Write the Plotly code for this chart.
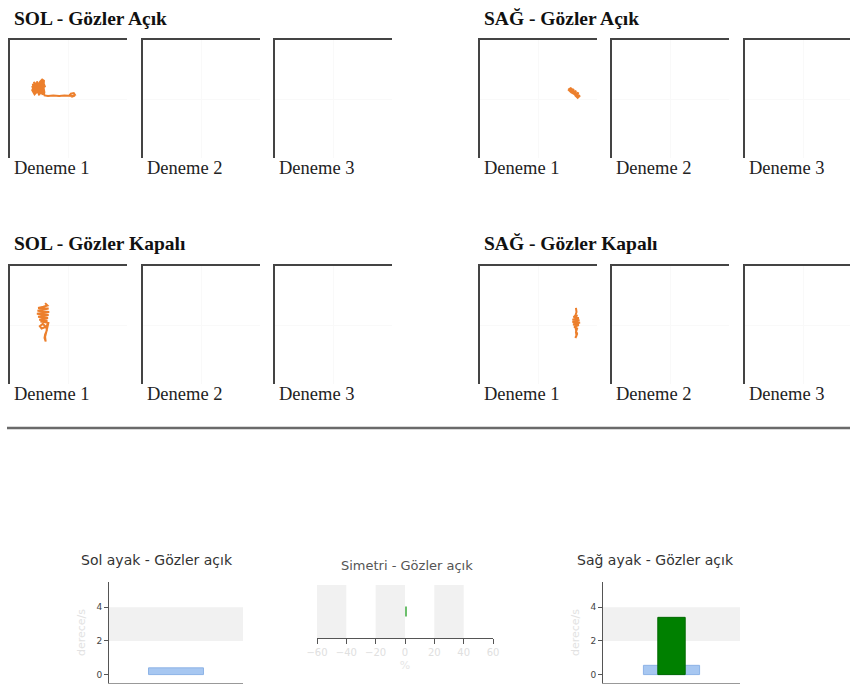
import plotly.graph_objects as go

W, H = 850, 688

# ---- Sway trajectories (Deneme 1 only; Deneme 2 and 3 are empty) ----
sol_acik_x = [-6.1, -5.9, -6.2, -5.6, -5.9, -5.3, -5.7, -5.0, -5.4, -4.7, -5.1, -4.4, -4.8, -4.1,
              -4.5, -4.0, -4.6, -4.2, -5.0, -4.6, -5.5, -5.1, -6.0, -5.6, -6.2, -5.8, -5.3, -4.9,
              -4.5, -4.2, -4.3, -4.1, -3.5, -2.6, -1.6, -0.7, 0.1, 0.7, 1.1, 0.9, 0.4, 0.2, 0.6, 1.1]
sol_acik_y = [2.6, 1.2, 2.2, 0.9, 2.9, 1.0, 2.7, 0.6, 3.0, 0.8, 2.8, 0.7, 3.1, 1.0,
              3.3, 2.0, 2.6, 1.4, 1.9, 1.1, 2.4, 1.6, 2.0, 2.8, 1.5, 0.8, 1.3, 2.9,
              3.3, 3.1, 1.5, 0.6, 0.5, 0.6, 0.5, 0.6, 0.5, 0.5, 0.7, 1.0, 0.9, 0.6, 0.4, 0.6]

sag_acik_x = [5.1, 5.6, 5.4, 6.0, 5.8, 6.4, 6.2, 6.8, 6.6, 7.1, 6.7, 6.3, 6.5, 5.9, 6.1, 5.5,
              5.7, 5.2, 5.6, 6.2, 6.8]
sag_acik_y = [1.6, 1.9, 1.2, 1.7, 1.0, 1.4, 0.7, 1.1, 0.4, 0.6, 0.2, 0.6, 1.0, 0.9, 1.4, 1.3,
              1.8, 1.5, 1.1, 0.8, 0.5]

sol_kapali_x = [-4.0, -3.6, -4.3, -5.2, -3.4, -5.3, -3.3, -5.4, -3.4, -5.2, -3.5, -5.0, -3.6,
                -4.8, -3.7, -4.2, -3.5, -3.8, -4.6, -4.9, -4.4, -3.8, -3.7, -4.0, -4.1, -3.9,
                -4.0, -3.8, -3.6, -3.4]
sol_kapali_y = [3.7, 3.3, 3.1, 2.9, 2.8, 2.4, 2.2, 1.9, 1.7, 1.4, 1.2, 0.9, 0.7,
                0.6, 0.4, 0.9, 0.3, -0.3, -0.6, -0.2, 0.2, -0.4, -0.9, -1.6, -2.2, -2.8,
                -2.0, -1.2, -0.3, 0.5]

sag_kapali_x = [6.4, 6.5, 6.3, 6.0, 6.9, 5.8, 7.0, 5.8, 7.1, 5.9, 6.9, 6.1, 6.6, 6.4, 6.5, 6.3,
                6.6, 6.4, 6.2, 6.6]
sag_kapali_y = [2.9, 2.2, 1.6, 1.3, 1.2, 0.9, 0.8, 0.5, 0.4, 0.1, 0.0, -0.3, -0.6, -1.2, -1.8,
                -2.2, -1.5, -0.8, 0.6, 1.8]

section_titles = ["SOL - Gözler Açık", "SAĞ - Gözler Açık", "SOL - Gözler Kapalı", "SAĞ - Gözler Kapalı"]
deneme_labels = ["Deneme 1", "Deneme 2", "Deneme 3"]

# ---- Summary charts ----
ayak_titles = ["Sol ayak - Gözler açık", "Sağ ayak - Gözler açık"]
ayak_ref = [0.4, 0.55]          # light blue reference bar
ayak_olcum = [None, 3.4]        # green measured bar
normal_band = [2, 4]
y_ticks = [0, 2, 4]
y_title = "derece/s"

simetri_title = "Simetri - Gözler açık"
simetri_value = 1.0
simetri_ticks = [-60, -40, -20, 0, 20, 40, 60]
simetri_bands = [(-60, -40), (-20, 0), (20, 40)]
simetri_unit = "%"

ORANGE = "#ec7f2c"
SERIF = "Liberation Serif"
SANS = "DejaVu Sans"


def fx(p):
    return p / W


def fy(p):
    return 1 - p / H


fig = go.Figure()
layout = {}
annotations = []
shapes = []


def ax_names(i):
    s = "" if i == 1 else str(i)
    return "xaxis" + s, "yaxis" + s, "x" + s, "y" + s


# trajectory panels
panel_lefts = [[10, 143, 275], [480, 612, 745]]
row_tops = [40, 266]
PW, PH = 117, 118
traj = {(0, 0): (sol_acik_x, sol_acik_y), (0, 1): (sag_acik_x, sag_acik_y),
        (1, 0): (sol_kapali_x, sol_kapali_y), (1, 1): (sag_kapali_x, sag_kapali_y)}

idx = 0
for r, top in enumerate(row_tops):
    for g, lefts in enumerate(panel_lefts):
        annotations.append(dict(x=fx(lefts[0] + 2), y=fy(top - 22), xref="paper", yref="paper",
                                text="<b>" + section_titles[r * 2 + g] + "</b>", showarrow=False,
                                xanchor="left", yanchor="middle",
                                font=dict(family=SERIF, size=19.5, color="#111")))
        for k, left in enumerate(lefts):
            idx += 1
            xa, ya, xr, yr = ax_names(idx)
            right = min(left + PW, W)
            xmax = -10 + 20 * (right - left) / PW
            layout[xa] = dict(domain=[fx(left), fx(right)], range=[-10, xmax], anchor=yr,
                              side="top", showline=True, linecolor="#444", linewidth=2,
                              showticklabels=False, ticks="", showgrid=False, automargin=False,
                              zeroline=True, zerolinecolor="#f9f9f9", zerolinewidth=1)
            layout[ya] = dict(domain=[fy(top + PH), fy(top)], range=[-10, 10], anchor=xr,
                              showline=True, linecolor="#444", linewidth=2, automargin=False,
                              showticklabels=False, ticks="", showgrid=False,
                              zeroline=True, zerolinecolor="#f9f9f9", zerolinewidth=1)
            if k == 0:
                tx, ty = traj[(r, g)]
            else:
                tx, ty = [None], [None]
            fig.add_trace(go.Scatter(x=tx, y=ty, mode="lines", xaxis=xr, yaxis=yr,
                                     line=dict(color=ORANGE, width=2),
                                     hoverinfo="skip", showlegend=False))
            annotations.append(dict(x=fx(left + 2), y=fy(top + PH + 10), xref="paper", yref="paper",
                                    text=deneme_labels[k], showarrow=False,
                                    xanchor="left", yanchor="middle",
                                    font=dict(family=SERIF, size=18.5, color="#222")))

# separator
shapes.append(dict(type="line", xref="paper", yref="paper", x0=fx(7), x1=1, y0=fy(428), y1=fy(428),
                   line=dict(color="#6a6a6a", width=2.5)))

# foot summary charts
ayak_boxes = [(109, 243), (603, 740)]
ayak_title_x = [157, 655]
for j in range(2):
    idx += 1
    xa, ya, xr, yr = ax_names(idx)
    x0p, x1p = ayak_boxes[j]
    layout[xa] = dict(domain=[fx(x0p), fx(x1p)], range=[-0.5, 0.5], anchor=yr, automargin=False,
                      showline=True, linecolor="#999", linewidth=1, showticklabels=False,
                      ticks="", showgrid=False, zeroline=False)
    layout[ya] = dict(domain=[fy(683), fy(582)], range=[-0.5, 5.5], anchor=xr, automargin=False,
                      showline=True, linecolor="#555", linewidth=1, tickvals=y_ticks,
                      ticks="outside", ticklen=4, tickcolor="#555",
                      tickfont=dict(family=SANS, size=9, color="#444"),
                      title=dict(text=y_title, font=dict(family=SANS, size=11, color="#e2e2e2"),
                                 standoff=8),
                      showgrid=False, zeroline=False)
    shapes.append(dict(type="rect", xref=xr, yref=yr, x0=-0.5, x1=0.5,
                       y0=normal_band[0], y1=normal_band[1], fillcolor="#f1f1f1",
                       line=dict(width=0), layer="below"))
    fig.add_trace(go.Bar(x=[0], y=[ayak_ref[j]], width=[0.41], xaxis=xr, yaxis=yr,
                         marker=dict(color="#a7c7f1", line=dict(color="#8db3e6", width=1)),
                         hoverinfo="skip", showlegend=False))
    if ayak_olcum[j] is not None:
        fig.add_trace(go.Bar(x=[0], y=[ayak_olcum[j]], width=[0.2], xaxis=xr, yaxis=yr,
                             marker=dict(color="#008000", line=dict(color="#006a00", width=1)),
                             hoverinfo="skip", showlegend=False))
    annotations.append(dict(x=fx(ayak_title_x[j]), y=fy(560), xref="paper", yref="paper",
                            text=ayak_titles[j], showarrow=False, xanchor="center", yanchor="middle",
                            font=dict(family=SANS, size=14, color="#333")))

# symmetry chart
idx += 1
xa, ya, xr, yr = ax_names(idx)
layout[xa] = dict(domain=[fx(317), fx(493)], range=[-60, 60], anchor=yr, automargin=False,
                  showline=True, linecolor="#555", linewidth=1, tickvals=simetri_ticks,
                  ticks="outside", ticklen=5, tickcolor="#555",
                  tickfont=dict(family=SANS, size=10, color="#e0e0e0"),
                  title=dict(text=simetri_unit, font=dict(family=SANS, size=11, color="#e6e6e6"),
                             standoff=4),
                  showgrid=False, zeroline=False)
layout[ya] = dict(domain=[fy(638), fy(585)], range=[0, 1], anchor=xr, visible=False,
                  automargin=False)
for b0, b1 in simetri_bands:
    shapes.append(dict(type="rect", xref=xr, yref=yr, x0=b0, x1=b1, y0=0, y1=1,
                       fillcolor="#f1f1f1", line=dict(width=0), layer="below"))
fig.add_trace(go.Bar(y=[0.5], x=[simetri_value], orientation="h", width=[0.19], xaxis=xr, yaxis=yr,
                     marker=dict(color="#6cbf6c", line=dict(width=0)),
                     hoverinfo="skip", showlegend=False))
annotations.append(dict(x=fx(407), y=fy(565), xref="paper", yref="paper", text=simetri_title,
                        showarrow=False, xanchor="center", yanchor="middle",
                        font=dict(family=SANS, size=13, color="#555")))

fig.update_layout(width=W, height=H, margin=dict(l=0, r=0, t=0, b=0, autoexpand=False),
                  paper_bgcolor="white", plot_bgcolor="white", barmode="overlay",
                  showlegend=False, annotations=annotations, shapes=shapes, **layout)

fig.write_html("out.html", config={"displayModeBar": False})
